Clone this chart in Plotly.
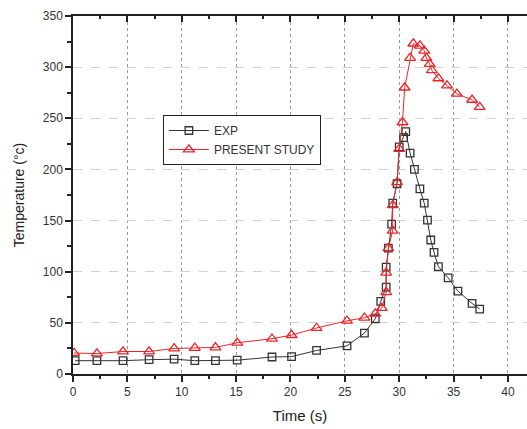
import plotly.graph_objects as go

exp_t = [0.2, 2.2, 4.6, 7.0, 9.3, 11.2, 13.1, 15.1, 18.3, 20.1, 22.4, 25.2, 26.8, 27.8, 28.3, 28.8, 28.8,
         29.0, 29.3, 29.4, 29.8, 30.0, 30.4, 30.6, 31.0, 31.4, 31.9, 32.3, 32.6, 32.9, 33.2, 33.6, 34.5,
         35.4, 36.7, 37.4]
exp_T = [13, 13, 13, 14, 14.5, 13, 13, 13.5, 16.6, 17, 23, 27.5, 40, 54, 71, 85, 104.5,
         123, 146.5, 167, 186, 222, 231, 237, 216, 200, 181, 167, 150.5, 131, 119, 105, 94,
         81, 69, 63.5]

ps_t = [0.1, 2.2, 4.6, 7.0, 9.3, 11.2, 13.1, 15.1, 18.3, 20.1, 22.4, 25.2, 26.8, 27.8, 28.4, 28.8, 28.8,
        29.0, 29.4, 29.4, 29.8, 30.0, 30.3, 30.5, 31.0, 31.3, 31.9, 32.3, 32.5, 32.8, 33.0, 33.6, 34.4,
        35.3, 36.7, 37.4]
ps_T = [20.5, 20, 22, 22, 25, 25.5, 26, 30.5, 34.5, 38, 45, 52, 55, 59, 64.5, 80, 99,
        123, 140, 165, 187.5, 220, 246, 280, 309, 323, 321, 316, 309, 303, 297, 289, 282,
        274, 268, 261]

x_ticks = [0, 5, 10, 15, 20, 25, 30, 35, 40]
y_ticks = [0, 50, 100, 150, 200, 250, 300, 350]
x_range = [0, 41.75]
y_range = [0, 350]

FONT = "Liberation Sans, Arial, sans-serif"

fig = go.Figure()
fig.add_trace(go.Scatter(
    x=exp_t, y=exp_T, name="EXP", mode="lines+markers",
    line=dict(color="#333333", width=1),
    marker=dict(symbol="square-open", size=7.5, color="#333333", line=dict(width=1.3)),
))
fig.add_trace(go.Scatter(
    x=ps_t, y=ps_T, name="PRESENT STUDY", mode="lines+markers",
    line=dict(color="#e8262a", width=1),
    marker=dict(symbol="triangle-up-open", size=9.5, color="#e8262a", line=dict(width=1.3)),
))
# invisible trace to keep top axis drawn
fig.add_trace(go.Scatter(x=[x_range[0]], y=[y_range[0]], xaxis="x2", mode="markers",
                         marker=dict(opacity=0), showlegend=False, hoverinfo="skip"))

fig.update_layout(
    width=527, height=429,
    margin=dict(l=73, r=0, t=16, b=55),
    paper_bgcolor="white", plot_bgcolor="white",
    font=dict(family=FONT, color="#333333", size=12),
    showlegend=True,
    legend=dict(
        x=0.198, y=0.7235, xanchor="left", yanchor="top",
        bordercolor="#222222", borderwidth=1, bgcolor="white",
        font=dict(family=FONT, size=12, color="#333333"),
        itemwidth=40, tracegroupgap=0,
    ),
    xaxis=dict(
        range=x_range, tickvals=x_ticks, showline=True, linecolor="#222222", linewidth=1.5,
        ticks="outside", ticklen=6, tickwidth=1.5, tickcolor="#222222",
        minor=dict(dtick=2.5, ticks="outside", ticklen=3, tickwidth=1.5, tickcolor="#222222", showgrid=False),
        showgrid=True, gridcolor="#9a9a9a", griddash="dot", gridwidth=1,
        zeroline=False, tickfont=dict(size=12, color="#333333"),
        title=dict(text="Time (s)", font=dict(size=15, color="#222222"), standoff=12),
    ),
    xaxis2=dict(
        range=x_range, overlaying="x", side="top", anchor="y", showline=True,
        linecolor="#222222", linewidth=1.5, tickvals=x_ticks, ticks="inside", ticklen=6,
        tickwidth=1.5, tickcolor="#222222", showticklabels=False, showgrid=False, zeroline=False,
        minor=dict(dtick=2.5, ticks="inside", ticklen=3, tickwidth=1.5, tickcolor="#222222"),
    ),
    yaxis=dict(
        range=y_range, tickvals=y_ticks, showline=True, linecolor="#222222", linewidth=1.5,
        ticks="outside", ticklen=6, tickwidth=1.5, tickcolor="#222222",
        minor=dict(dtick=25, ticks="outside", ticklen=4, tickwidth=1.5, tickcolor="#222222", showgrid=False),
        showgrid=True, gridcolor="#d0d0d0", griddash="dash", gridwidth=1,
        zeroline=False, tickfont=dict(size=12, color="#333333"),
        title=dict(text="Temperature (°c)", font=dict(size=14, color="#222222"), standoff=15),
    ),
)

fig.write_html("out.html")
